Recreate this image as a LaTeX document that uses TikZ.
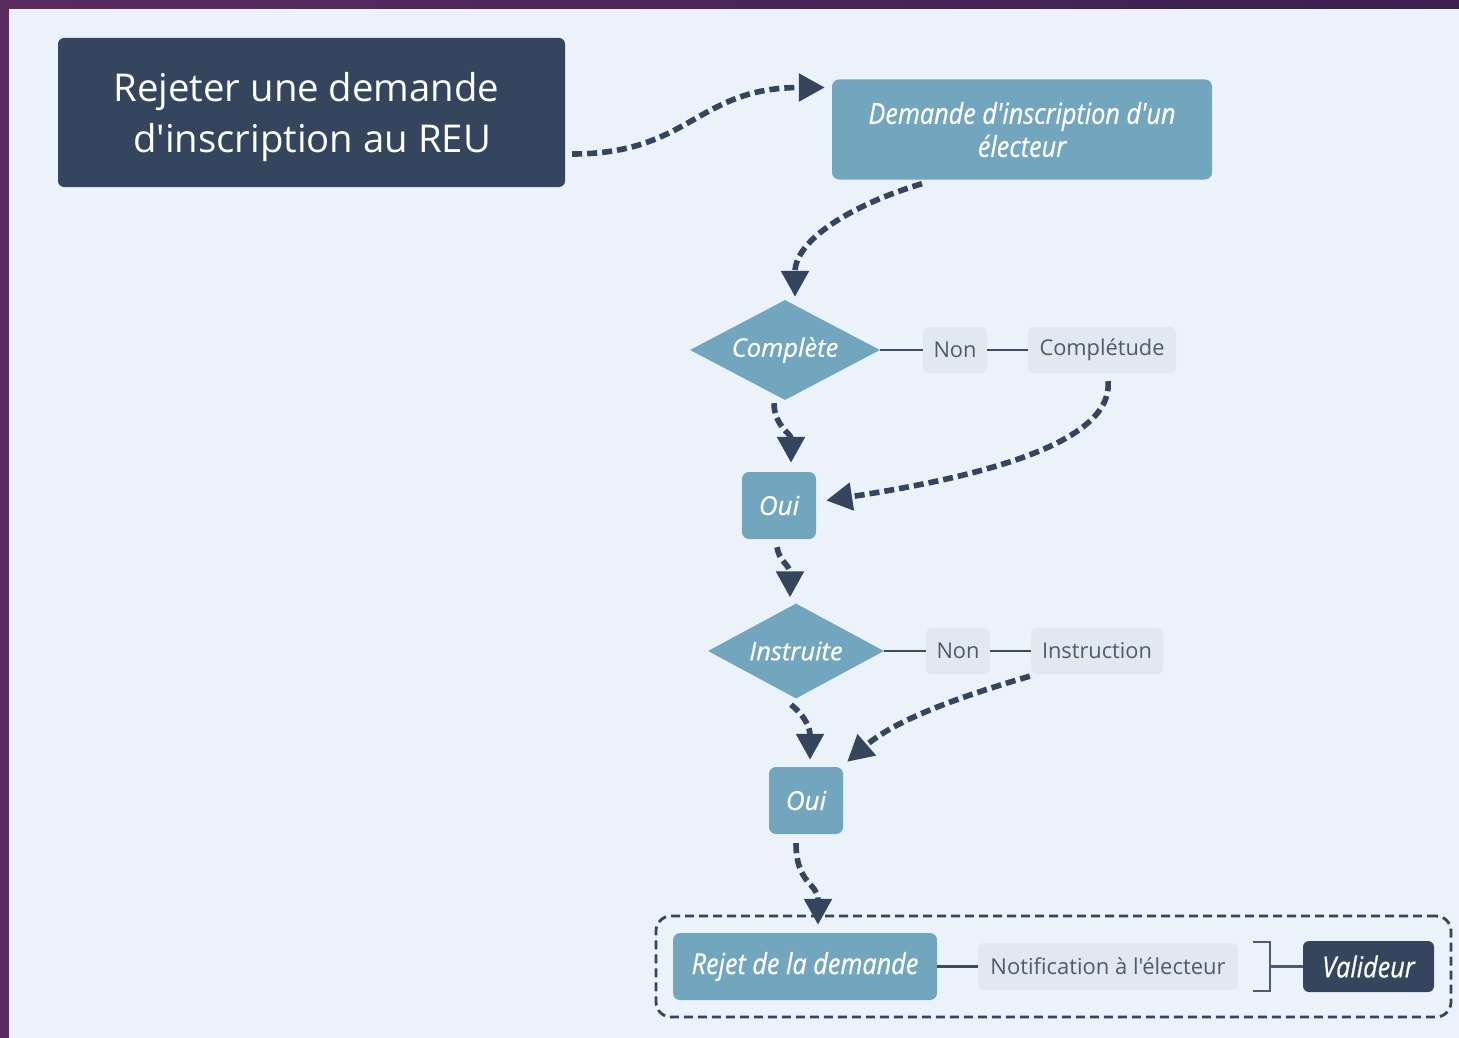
\documentclass[tikz,border=0pt]{standalone}
\usepackage{fontspec}
\setmainfont{Open Sans}[Ligatures=TeXOff]
\newfontfamily\semifont{Open Sans}[Ligatures=TeXOff, FakeBold=0.6]
\newfontfamily\condfont{Open Sans}[Ligatures=TeXOff, FakeStretch=0.87, FakeBold=0.6]
\usetikzlibrary{arrows.meta,shapes.geometric,calc}
\definecolor{navy}{HTML}{34455D}
\definecolor{teal}{HTML}{71A6BE}
\definecolor{panel}{HTML}{EBF2F9}
\definecolor{chip}{HTML}{E1E8F0}
\definecolor{chiptext}{HTML}{4F5B6B}
\definecolor{thin}{HTML}{3D4B5C}
\definecolor{purpA}{HTML}{5A2B61}
\definecolor{purpB}{HTML}{392150}
\tikzset{
  darkbox/.style={rectangle, rounded corners=6pt, fill=navy, text=white, inner sep=0pt, align=center},
  tealbox/.style={rectangle, rounded corners=7pt, fill=teal, text=white, inner sep=0pt, align=center},
  chipbox/.style={rectangle, rounded corners=6pt, fill=chip, text=chiptext, inner sep=0pt, align=center},
  decision/.style={diamond, fill=teal, text=white, inner sep=0pt, shape aspect=1.9},
  flow/.style={draw=navy, line width=5.6pt, dash pattern=on 10pt off 5pt, -{Triangle[length=26pt,width=27pt]}},
  link/.style={draw=thin, line width=2.2pt},
}
\begin{document}
\begin{tikzpicture}[x=1pt,y=-1pt]
\shade[left color=purpA, right color=purpB] (0,0) rectangle (1459,1038);
\fill[panel] (9,9) rectangle (1459,1038);
\useasboundingbox (0,0) rectangle (1459,1038);

% nodes
\node[darkbox, minimum width=507pt, minimum height=149pt] (title) at (311.5,112.5) {};
\node[text=white, align=center, inner sep=0pt, font=\fontsize{38.3}{51}\selectfont] (titletext) at ($(title.center)+(-5,4.5)$) {Rejeter une demande\\\hspace*{11pt}d'inscription au REU};
\node[tealbox, minimum width=380pt, minimum height=100pt, font=\condfont\itshape\fontsize{29}{33}\selectfont] (dem) at (1022,129.5) {Demande d'inscription d'un\\électeur};

\node[decision, minimum width=190pt, minimum height=100pt, font=\semifont\itshape\fontsize{25.5}{28}\selectfont] (comp) at (785,350) {Complète};
\node[chipbox, minimum width=64pt, minimum height=46pt, font=\fontsize{21.8}{26}\selectfont] (non1) at (955,350) {Non};
\node[chipbox, minimum width=148pt, minimum height=46pt, font=\fontsize{21.8}{26}\selectfont] (cplt) at (1102,350) {Complétude};
\node[tealbox, minimum width=74pt, minimum height=67pt, font=\semifont\itshape\fontsize{26}{28}\selectfont] (oui1) at (779,505.5) {Oui};

\node[decision, minimum width=176pt, minimum height=95pt, font=\semifont\itshape\fontsize{25.5}{28}\selectfont] (inst) at (796,651) {Instruite};
\node[chipbox, minimum width=64pt, minimum height=46pt, font=\fontsize{21.8}{26}\selectfont] (non2) at (958,651) {Non};
\node[chipbox, minimum width=132pt, minimum height=46pt, font=\fontsize{21.8}{26}\selectfont] (instr) at (1097,651) {Instruction};
\node[tealbox, minimum width=74pt, minimum height=67pt, font=\semifont\itshape\fontsize{26}{28}\selectfont] (oui2) at (806,800.5) {Oui};

\node[rectangle, rounded corners=15pt, draw=navy, line width=2.8pt, dash pattern=on 9pt off 5pt, minimum width=795pt, minimum height=101pt, inner sep=0pt] (grp) at (1053.5,966.5) {};
\node[tealbox, minimum width=264pt, minimum height=67pt, font=\condfont\itshape\fontsize{29}{33}\selectfont] (rej) at (805,966.5) {Rejet de la demande};
\node[chipbox, minimum width=260pt, minimum height=47pt, font=\fontsize{22}{27}\selectfont] (notif) at (1108,966.5) {Notification à l'électeur};
\node[darkbox, minimum width=131pt, minimum height=51pt, font=\condfont\itshape\fontsize{29}{31}\selectfont] (valid) at (1368.5,966.5) {Valideur};

% thin links
\draw[link] (comp.east) -- (non1.west);
\draw[link] (non1.east) -- (cplt.west);
\draw[link] (inst.east) -- (non2.west);
\draw[link] (non2.east) -- (instr.west);
\draw[link] (rej.east) -- (notif.west);
\coordinate (bk) at ($(notif.east)+(32,0)$);
\draw[draw=chiptext, line width=2.2pt] ($(bk)+(-17,-24.5)$) -- ($(bk)+(0,-24.5)$) -- ($(bk)+(0,24.5)$) -- ($(bk)+(-17,24.5)$);
\draw[draw=chiptext, line width=2.2pt] (bk) -- (valid.west);

% flows
\draw[flow] ($(title.east)+(7,41.5)$) .. controls ($(title.east)+(125,41.5)$) and ($(dem.west)+(-135,-42)$) .. ($(dem.west)+(-7,-42)$);
\draw[flow] ($(dem.south)+(-100,4)$) .. controls ($(dem.south)+(-170,25)$) and ($(comp.north)+(10,-60)$) .. ($(comp.north)+(10,-3)$);
\draw[flow] ($(comp.south)+(-11,3)$) .. controls ($(comp.south)+(-11,25)$) and ($(oui1.north)+(12,-38)$) .. ($(oui1.north)+(12,-9)$);
\draw[flow] ($(cplt.south)+(6,8)$) .. controls ($(cplt.south)+(12,75)$) and ($(oui1.east)+(140,-25)$) .. ($(oui1.east)+(10,-5)$);
\draw[flow] ($(oui1.south)+(-2,8)$) .. controls ($(oui1.south)+(0,22)$) and ($(inst.north)+(-6,-38)$) .. ($(inst.north)+(-6,-6)$);
\draw[flow] ($(inst.south)+(-5,6)$) .. controls ($(inst.south)+(10,18)$) and ($(oui2.north)+(4,-38)$) .. ($(oui2.north)+(4,-7)$);
\draw[flow] ($(instr.south west)+(-1,2)$) .. controls ($(instr.south west)+(-80,25)$) and ($(oui2.north east)+(50,-45)$) .. ($(oui2.north east)+(4,-5)$);
\draw[flow] ($(oui2.south)+(-10,9)$) .. controls ($(oui2.south)+(-10,50)$) and ($(rej.north)+(13,-50)$) .. ($(rej.north)+(13,-8)$);
\end{tikzpicture}
\end{document}
